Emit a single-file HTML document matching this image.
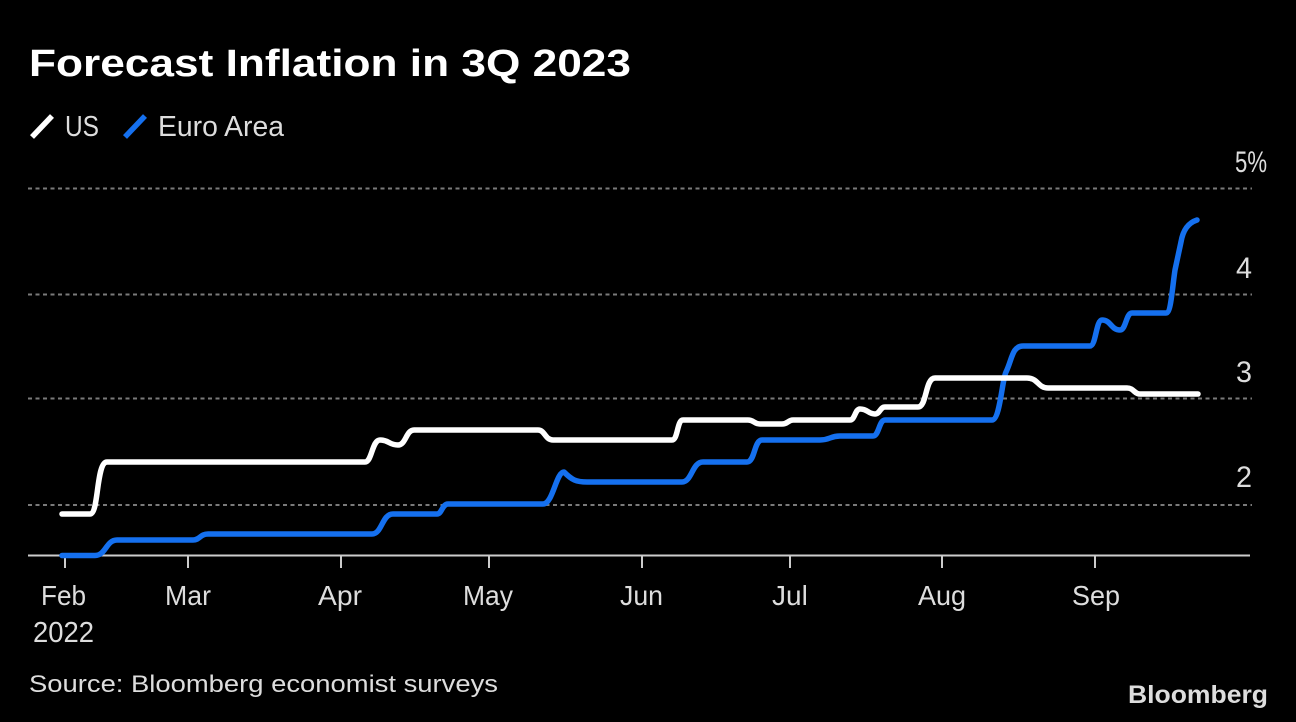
<!DOCTYPE html>
<html>
<head>
<meta charset="utf-8">
<style>
  html, body { margin: 0; padding: 0; background: #000; }
  svg { display: block; }
  text { font-family: "Liberation Sans", "DejaVu Sans", sans-serif; }
</style>
</head>
<body>
<svg width="1296" height="722" viewBox="0 0 1296 722" xmlns="http://www.w3.org/2000/svg">
  <rect x="0" y="0" width="1296" height="722" fill="#000"/>

  <!-- Title -->
  <text x="29" y="76" font-size="38" font-weight="bold" fill="#ffffff" textLength="602" lengthAdjust="spacingAndGlyphs">Forecast Inflation in 3Q 2023</text>

  <!-- Legend -->
  <line x1="32" y1="137" x2="52" y2="116" stroke="#ffffff" stroke-width="5.5"/>
  <text x="65" y="136" font-size="29" fill="#dddddd" textLength="34" lengthAdjust="spacingAndGlyphs">US</text>
  <line x1="125" y1="137" x2="145" y2="116" stroke="#1570ef" stroke-width="5.5"/>
  <text x="158" y="136" font-size="29" fill="#dddddd" textLength="126" lengthAdjust="spacingAndGlyphs">Euro Area</text>

  <!-- Gridlines -->
  <g stroke="#7a7a7a" stroke-width="2" stroke-dasharray="4 3.5">
    <line x1="28" y1="188.5" x2="1252" y2="188.5"/>
    <line x1="28" y1="294.5" x2="1252" y2="294.5"/>
    <line x1="28" y1="398.5" x2="1252" y2="398.5"/>
    <line x1="28" y1="505" x2="1252" y2="505"/>
  </g>

  <!-- Right axis labels -->
  <g font-size="30" fill="#dddddd">
    <text x="1235" y="172" textLength="32" lengthAdjust="spacingAndGlyphs">5%</text>
    <text x="1236" y="278" textLength="16" lengthAdjust="spacingAndGlyphs">4</text>
    <text x="1236" y="382" textLength="16" lengthAdjust="spacingAndGlyphs">3</text>
    <text x="1236" y="487" textLength="16" lengthAdjust="spacingAndGlyphs">2</text>
  </g>

  <!-- X axis -->
  <line x1="28" y1="555.5" x2="1250" y2="555.5" stroke="#cccccc" stroke-width="2"/>
  <g stroke="#cccccc" stroke-width="2">
    <line x1="65" y1="556" x2="65" y2="568"/>
    <line x1="188" y1="556" x2="188" y2="568"/>
    <line x1="341" y1="556" x2="341" y2="568"/>
    <line x1="489" y1="556" x2="489" y2="568"/>
    <line x1="642" y1="556" x2="642" y2="568"/>
    <line x1="790" y1="556" x2="790" y2="568"/>
    <line x1="942" y1="556" x2="942" y2="568"/>
    <line x1="1095" y1="556" x2="1095" y2="568"/>
  </g>
  <g font-size="28" fill="#dddddd">
    <text x="41" y="605" textLength="45" lengthAdjust="spacingAndGlyphs">Feb</text>
    <text x="165" y="605" textLength="46" lengthAdjust="spacingAndGlyphs">Mar</text>
    <text x="318" y="605" textLength="44" lengthAdjust="spacingAndGlyphs">Apr</text>
    <text x="463" y="605" textLength="50" lengthAdjust="spacingAndGlyphs">May</text>
    <text x="620" y="605" textLength="43" lengthAdjust="spacingAndGlyphs">Jun</text>
    <text x="772" y="605">Jul</text>
    <text x="918" y="605" textLength="48" lengthAdjust="spacingAndGlyphs">Aug</text>
    <text x="1072" y="605" textLength="48" lengthAdjust="spacingAndGlyphs">Sep</text>
  </g>
  <text x="33" y="642" font-size="29" fill="#dddddd" textLength="61" lengthAdjust="spacingAndGlyphs">2022</text>

  <!-- Euro Area line -->
  <path fill="none" stroke="#1570ef" stroke-width="5.5" stroke-linecap="round" stroke-linejoin="round"
    d="M62,555.5 L95,555.5
       C106,555.5 106,540 117,540 L193,540
       C200,540 200,534 208,534 L372,534
       C382,534 382,514 393,514 L437,514
       C442,514 442,504 448,504 L543,504
       C553,504 556,472 564,472
       C572,480 576,482 587,482 L682,482
       C692,482 692,462 703,462 L747,462
       C755,462 754,440 762,440 L820,440
       C830,440 830,436 840,436 L873,436
       C879,436 879,420 885,420 L992,420
       C1000,420 1002,380 1006,372
       C1012,360 1012,346 1023,346 L1090,346
       C1096,346 1096,320 1102,320
       C1111,320 1111,330 1120,330
       C1126,330 1126,313 1132,313 L1166,313
       C1171,313 1172,290 1175,270
       L1181,242
       C1183,230 1188,223 1197,220"/>

  <!-- US line -->
  <path fill="none" stroke="#ffffff" stroke-width="5.5" stroke-linecap="round" stroke-linejoin="round"
    d="M62,514 L90,514
       C99,514 96,462 107,462 L365,462
       C372,462 372,440 380,440
       C389,440 389,445 398,445
       C406,445 406,430 414,430 L538,430
       C545,430 545,440 553,440 L672,440
       C678,440 677,420 683,420 L748,420
       C754,420 754,424 760,424 L782,424
       C788,424 788,420 793,420 L850,420
       C855,420 855,409 860,409
       C868,409 868,414 875,414
       C880,414 880,407 885,407 L918,407
       C927,407 925,378 935,378 L1027,378
       C1038,378 1038,388 1048,388 L1127,388
       C1134,388 1134,394 1140,394 L1198,394"/>

  <!-- Source -->
  <text x="29" y="692" font-size="24" fill="#dddddd" textLength="469" lengthAdjust="spacingAndGlyphs">Source: Bloomberg economist surveys</text>

  <!-- Bloomberg logo -->
  <text x="1128" y="703" font-size="25" font-weight="bold" fill="#dddddd" textLength="140" lengthAdjust="spacingAndGlyphs">Bloomberg</text>
</svg>
</body>
</html>
